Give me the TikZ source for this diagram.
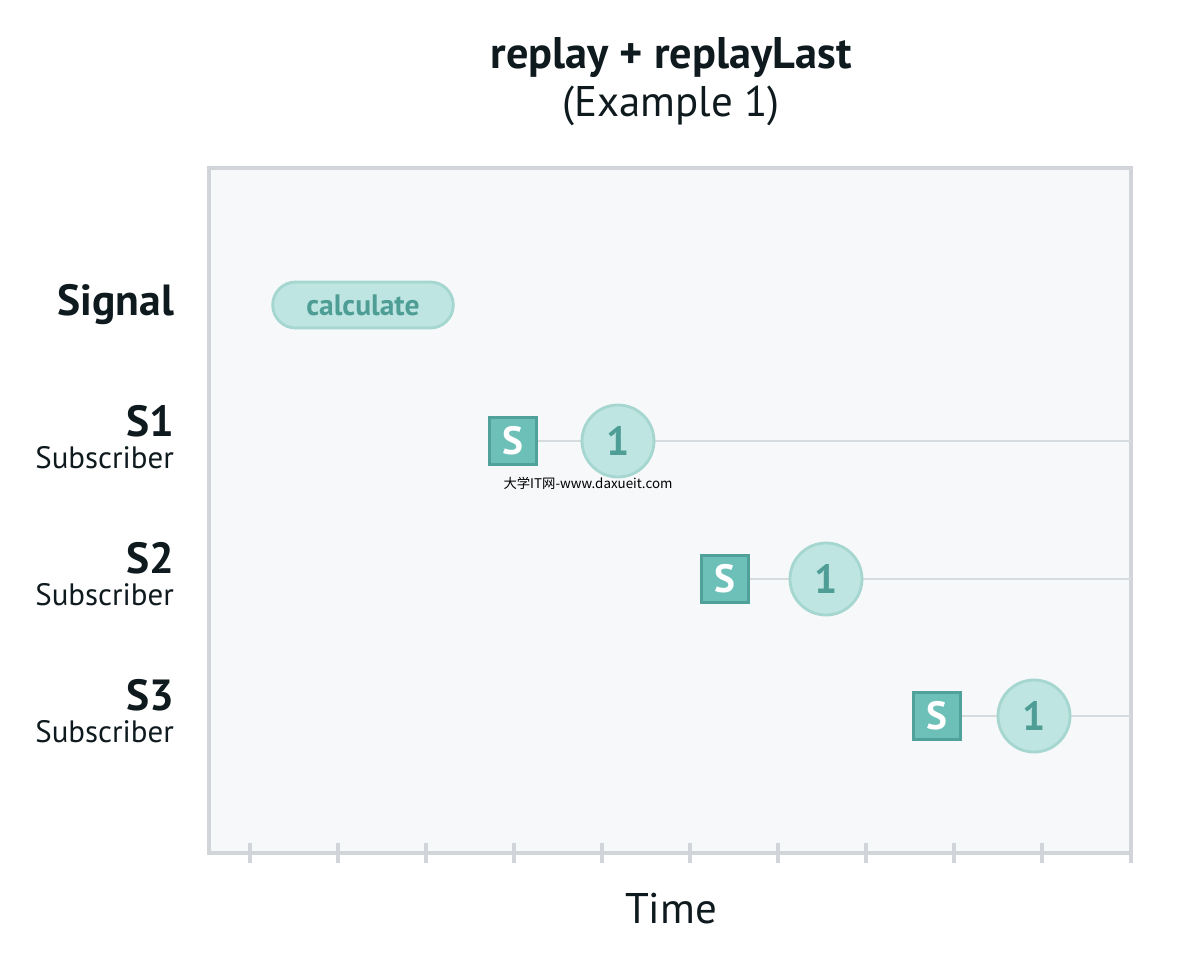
\documentclass[tikz,border=0pt]{standalone}
\usepackage{fontspec}
\setmainfont{PT Sans}
\newfontfamily\cjkfont{Noto Sans CJK SC}
\usetikzlibrary{positioning,shapes.geometric,shapes.misc}
\definecolor{framegray}{HTML}{D1D5D9}
\definecolor{panel}{HTML}{F7F8FA}
\definecolor{pillfill}{HTML}{BEE5E1}
\definecolor{pilledge}{HTML}{A5D6D0}
\definecolor{tealtext}{HTML}{4E9E96}
\definecolor{boxfill}{HTML}{6CC0B8}
\definecolor{boxedge}{HTML}{4FA199}
\definecolor{rowline}{HTML}{D6DBDF}
\definecolor{ink}{HTML}{0F1A1F}
\newcommand{\unitpx}{*0.7113pt}
\tikzstyle{frame}=[draw=framegray, line width=2.2pt, fill=panel]
\tikzstyle{tick}=[draw=framegray, line width=2.2pt]
\tikzstyle{lane}=[draw=rowline, line width=0.8pt]
\tikzstyle{signalpill}=[rounded rectangle, draw=pilledge, line width=2pt, fill=pillfill,
  minimum width=190\unitpx, minimum height=46\unitpx, text=tealtext,
  font=\bfseries\fontsize{21}{21}\selectfont]
\tikzstyle{subbox}=[rectangle, draw=boxedge, line width=2pt, fill=boxfill,
  minimum size=47\unitpx, inner sep=0pt, text=white, font=\bfseries\fontsize{28}{28}\selectfont]
\tikzstyle{value}=[circle, draw=pilledge, line width=2pt, fill=pillfill,
  minimum size=72\unitpx, inner sep=0pt, text=tealtext, font=\bfseries\fontsize{29}{29}\selectfont]
\tikzstyle{rowname}=[anchor=east, text=ink, font=\bfseries\fontsize{31}{31}\selectfont]
\tikzstyle{rowsub}=[anchor=east, text=ink, font=\fontsize{22}{22}\selectfont]

\begin{document}
\begin{tikzpicture}[x=0.025cm, y=-0.025cm, semithick]
    \useasboundingbox (0,0) rectangle (1180,967);
    % title
    \node[text=ink, font=\bfseries\fontsize{31.5}{31.5}\selectfont] (title) at (671,58) {replay + replayLast};
    \node[text=ink, font=\fontsize{30.5}{30.5}\selectfont] (subtitle) at (671,106) {(Example 1)};
    % panel and time axis
    \draw[frame] (209,168) rectangle (1131,853);
    \foreach \t in {250,338,426,514,602,690,778,866,954,1042,1131}
        \draw[tick] (\t,843) -- (\t,863);
    \node[text=ink, font=\fontsize{30.5}{30.5}\selectfont] (time) at (671,909) {Time};
    % row labels
    \node[rowname] (lsig) at (179,305) {Signal};
    \foreach \r/\y in {1/421,2/558,3/695} {
        \node[rowname] (ls\r) at (179,\y) {S\r};
        \node[rowsub] (lsub\r) at (179,\y+37) {Subscriber};
    }
    % signal
    \node[signalpill] (calc) at (363,305) {calculate};
    % subscribers
    \coordinate (end1) at (1131,441);
    \coordinate (end2) at (1131,579);
    \coordinate (end3) at (1131,716);
    \node[subbox] (sub1) at (513,441) {S};
    \node[subbox] (sub2) at (725,579) {S};
    \node[subbox] (sub3) at (937,716) {S};
    \draw[lane] (sub1) -- (end1);
    \draw[lane] (sub2) -- (end2);
    \draw[lane] (sub3) -- (end3);
    \node[value] (val1) at (618,441) {1};
    \node[value] (val2) at (826,579) {1};
    \node[value] (val3) at (1034,716) {1};
    % watermark
    \node[text=black, font=\cjkfont\fontsize{9.5}{9.5}\selectfont] (mark) at (588,483) {大学IT网-www.daxueit.com};
\end{tikzpicture}
\end{document}
